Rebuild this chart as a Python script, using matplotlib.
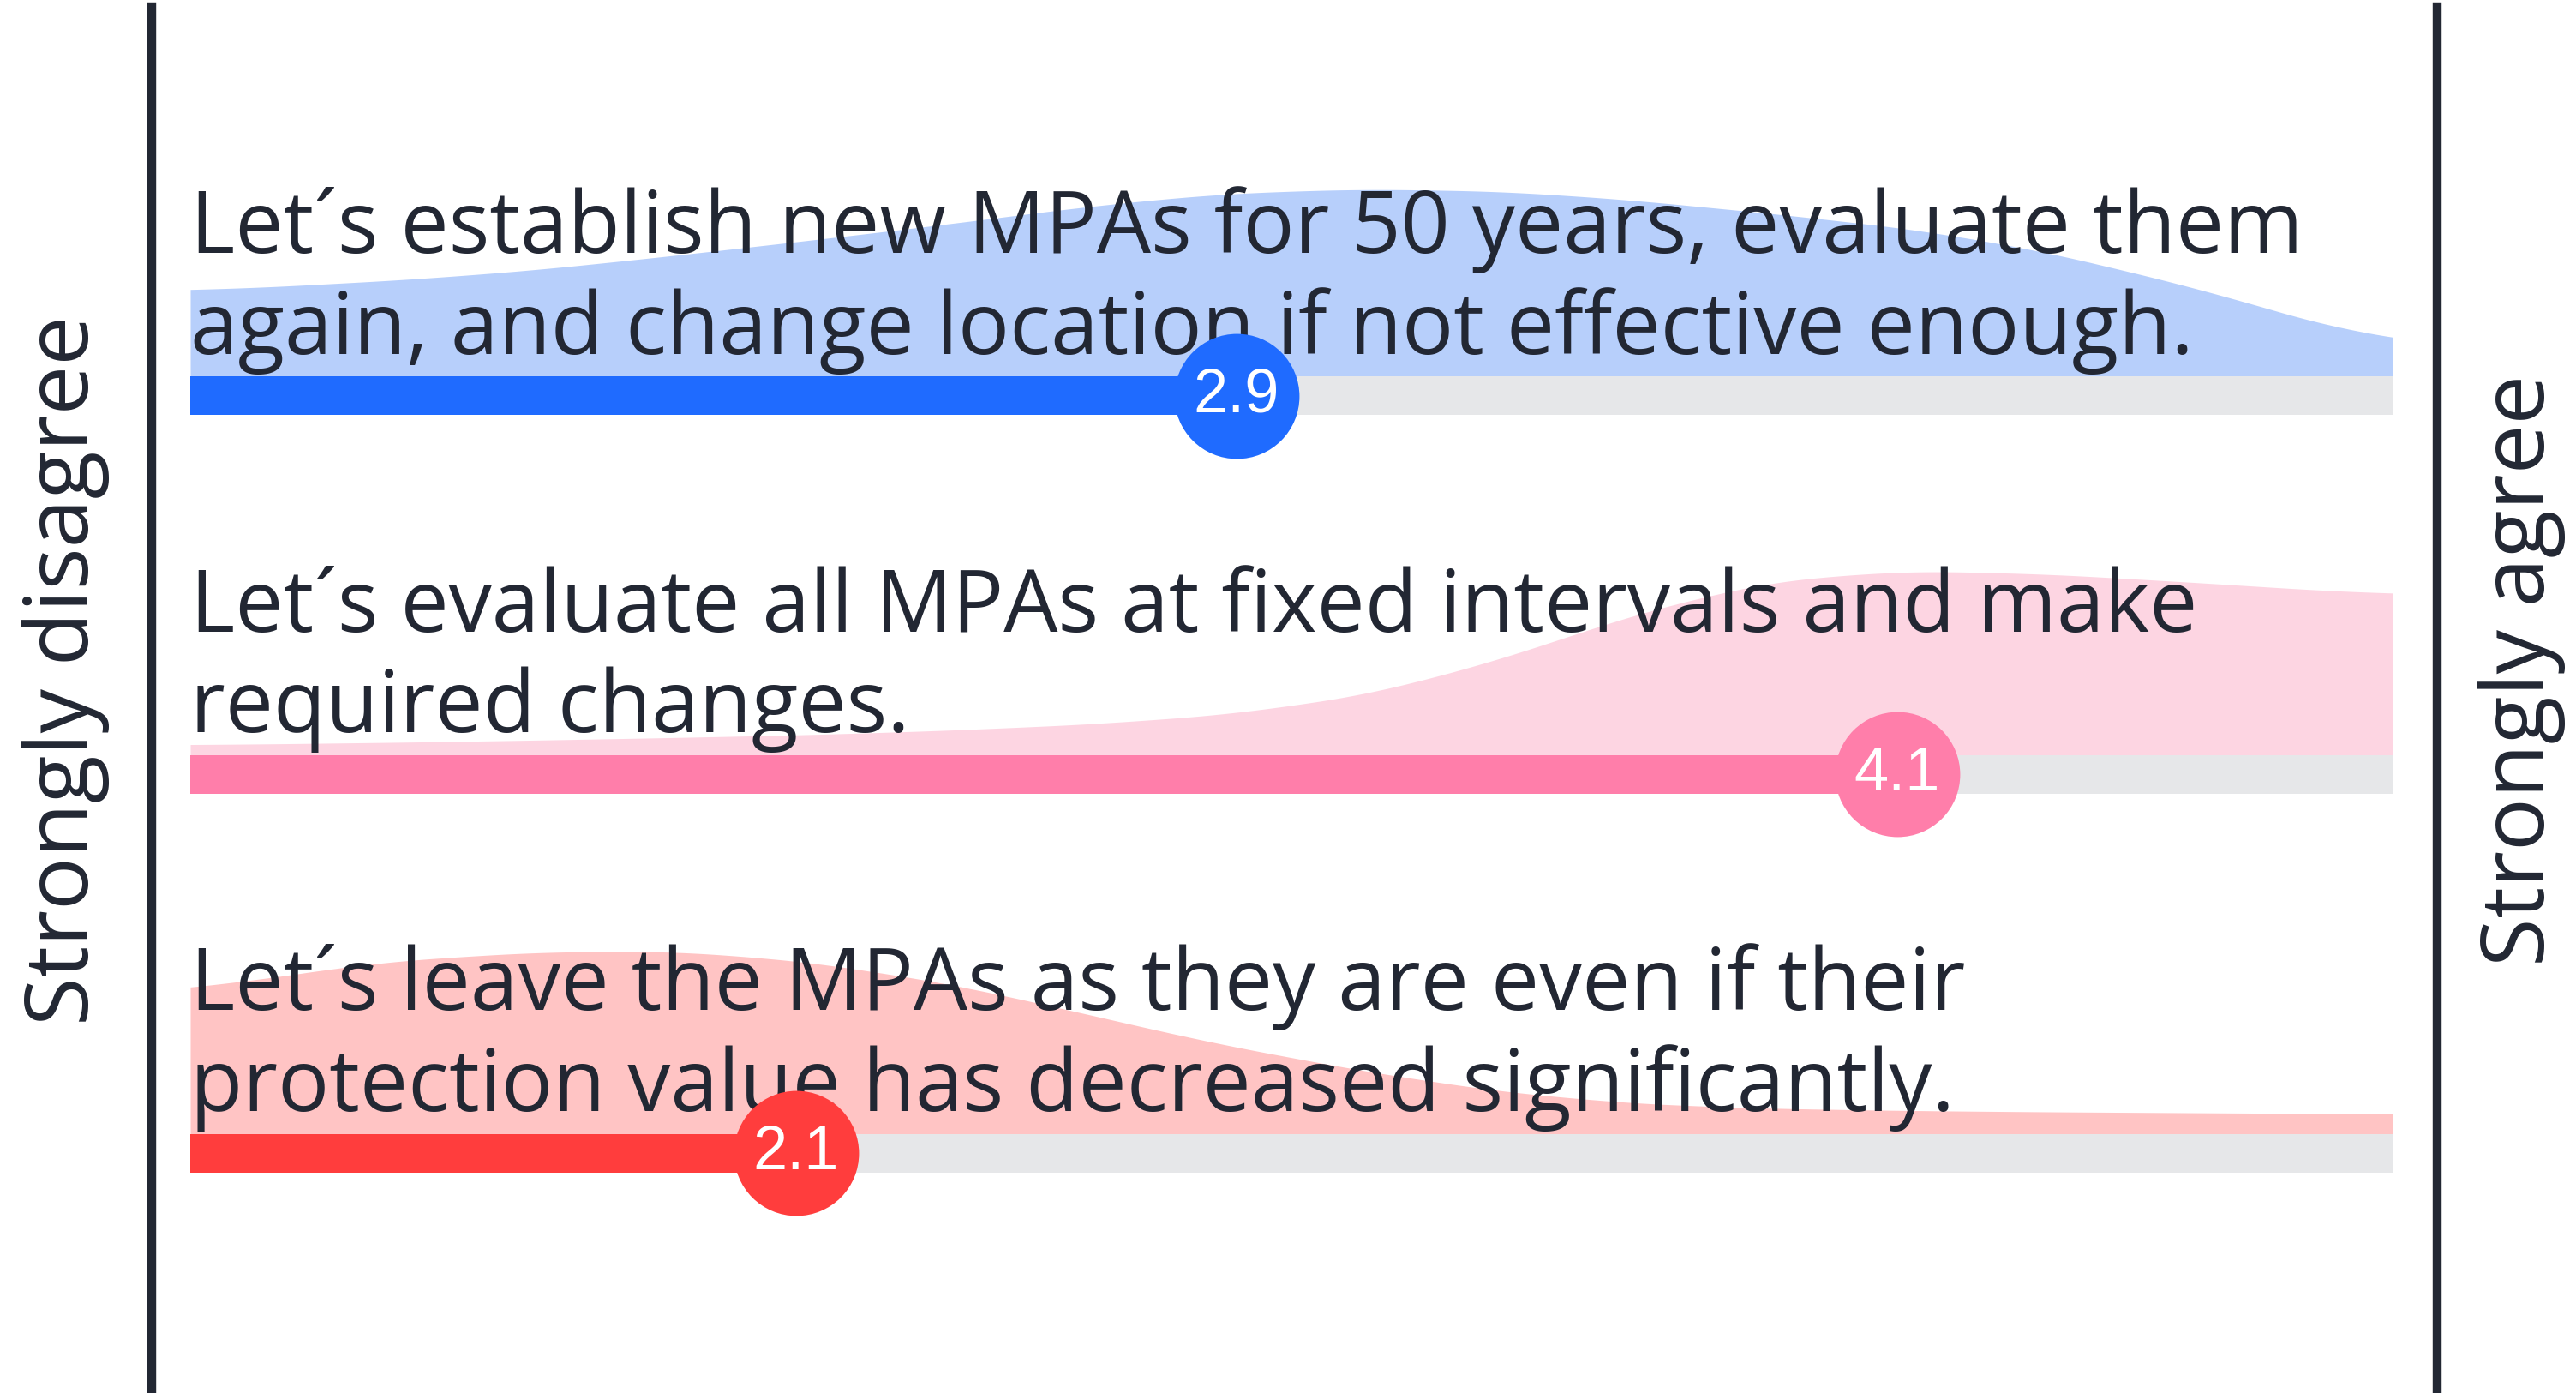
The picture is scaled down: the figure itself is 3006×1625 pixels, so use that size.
import matplotlib.pyplot as plt
import numpy as np

plt.rcParams['font.family'] = ['Open Sans', 'DejaVu Sans']

# answers on a 1-5 scale (strongly disagree -> strongly agree)
questions = [
    "Let´s establish new MPAs for 50 years, evaluate them\nagain, and change location if not effective enough.",
    "Let´s evaluate all MPAs at fixed intervals and make\nrequired changes.",
    "Let´s leave the MPAs as they are even if their\nprotection value has decreased significantly.",
]
means = [2.9, 4.1, 2.1]

# answer distribution (relative), read at steps of 0.25 from 1 to 5
scale_pts = np.arange(1, 5.01, 0.25)
dist_new = [0.100, 0.108, 0.117, 0.132, 0.150, 0.168, 0.188, 0.208, 0.218,
            0.219, 0.213, 0.198, 0.182, 0.162, 0.127, 0.085, 0.036]
dist_eval = [0.012, 0.014, 0.016, 0.019, 0.022, 0.026, 0.032, 0.040, 0.055,
             0.085, 0.138, 0.190, 0.214, 0.215, 0.207, 0.197, 0.187]
dist_leave = [0.165, 0.195, 0.208, 0.215, 0.210, 0.190, 0.160, 0.120, 0.088,
              0.060, 0.040, 0.031, 0.028, 0.026, 0.025, 0.024, 0.023]
dists = [dist_new, dist_eval, dist_leave]

bar_colors = ["#1f6bff", "#ff7eaa", "#ff3d3d"]
fill_colors = ["#b7cffb", "#fdd5e2", "#ffc4c4"]
track_color = "#e6e7e9"
dark = "#222733"

left_label = "Strongly disagree"
right_label = "Strongly agree"


def smooth_curve(x, xp, fp, k=41):
    # linear through the read points, then a light moving average
    y = np.interp(x, xp, fp)
    pad = np.pad(y, k // 2, mode='edge')
    return np.convolve(pad, np.ones(k) / k, mode='valid')


fig = plt.figure(figsize=(30.06, 16.25), dpi=100)
ax = fig.add_axes([0, 0, 1, 1])
ax.set_xlim(0.6545, 5.333)
ax.set_ylim(2.634, -1.046)
ax.axis('off')

bar_h = 0.102
dens_scale = 2.265
line_offsets = [-0.378, -0.111]
xs = np.linspace(1, 5, 400)

for i, (q, m, d) in enumerate(zip(questions, means, dists)):
    row = i
    top = row - bar_h / 2
    h = smooth_curve(xs, scale_pts, d) * dens_scale
    ax.fill_between(xs, top, top - h, color=fill_colors[i], lw=0, zorder=1)
    ax.barh(row, 4, left=1, height=bar_h, color=track_color, zorder=2)
    ax.barh(row, m - 1, left=1, height=bar_h, color=bar_colors[i], zorder=3)
    for line, off in zip(q.split("\n"), line_offsets):
        ax.text(1, row + off, line, fontsize=72, color=dark,
                ha='left', va='baseline', zorder=4)
    ax.scatter(m, row, s=105 ** 2, color=bar_colors[i], linewidths=0, zorder=5)
    ax.text(m, row, f"{m:.1f}", fontsize=52, color='white', family='Liberation Sans',
            ha='center', va='center', zorder=6)

# scale end lines
ax.axvline(0.93, ymin=0, ymax=0.995, color=dark, lw=7.5)
ax.axvline(5.081, ymin=0, ymax=0.995, color=dark, lw=7.5)

fig.text(0.0256, 0.519, left_label, rotation=90, fontsize=74, color=dark,
         ha='center', va='center')
fig.text(0.979, 0.519, right_label, rotation=90, fontsize=74, color=dark,
         ha='center', va='center')

fig.savefig("out.png", dpi=100, facecolor='white')
